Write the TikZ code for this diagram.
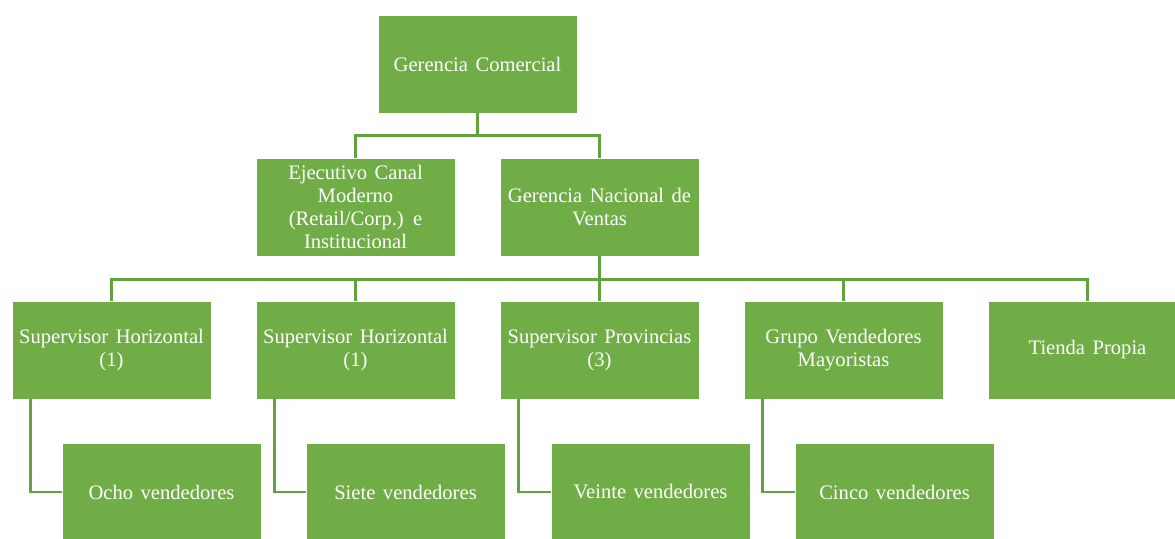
\documentclass[tikz,border=0pt]{standalone}
\usepackage{fontspec}
\setmainfont{Liberation Serif}
\definecolor{boxgreen}{HTML}{70AD47}
\definecolor{linkgreen}{HTML}{64A13F}
\newcommand\orgfont{\fontsize{20.6}{22.8}\selectfont\spaceskip=7.5pt plus 2pt minus 1pt\relax}
\tikzset{
  orgbox/.style={rectangle, fill=boxgreen, draw=white, line width=0.8pt,
    minimum width=199pt, minimum height=98pt, inner sep=0pt,
    text=white, align=center, font=\orgfont},
  link/.style={draw=linkgreen, line width=2.6pt}
}
\begin{document}
\begin{tikzpicture}[x=1pt, y=-1pt]
  \useasboundingbox (0,0) rectangle (1175,538);

  % head
  \node[orgbox] (gc)  at (477.5,64)  {Gerencia Comercial};

  % second level
  \node[orgbox] (eje) at (355.5,207) {Ejecutivo Canal\\Moderno\\(Retail/Corp.) e\\Institucional};
  \node[orgbox] (gnv) at (599.5,207) {Gerencia Nacional de\\Ventas};

  % third level
  \node[orgbox] (sh1) at (111.5,350) {Supervisor Horizontal\\(1)};
  \node[orgbox] (sh2) at (355.5,350) {Supervisor Horizontal\\(1)};
  \node[orgbox] (sp)  at (599.5,350) {Supervisor Provincias\\(3)};
  \node[orgbox] (gvm) at (843.5,350) {Grupo Vendedores\\Mayoristas};
  \node[orgbox] (tp)  at (1087.5,350) {Tienda Propia};

  % sales teams
  \node[orgbox] (v8) at (161.5,492) {Ocho vendedores};
  \node[orgbox] (v7) at (405.5,492) {Siete vendedores};
  \node[orgbox] (v20) at (650.5,492) {Veinte vendedores};
  \node[orgbox] (v5) at (894.5,492) {Cinco vendedores};

  % head to second level
  \path[link] (gc.south) -- ++(0,22) -| (eje.north);
  \path[link] (gc.south) -- ++(0,22) -| (gnv.north);

  % second to third level
  \foreach \n in {sh1,sh2,sp,gvm,tp}
    \path[link] (gnv.south) -- ++(0,23) -| (\n.north);

  % supervisors to their teams
  \path[link] ([xshift=19pt]sh1.south west) |- (v8.west);
  \path[link] ([xshift=19pt]sh2.south west) |- (v7.west);
  \path[link] ([xshift=19pt]sp.south west)  |- (v20.west);
  \path[link] ([xshift=19pt]gvm.south west) |- (v5.west);
\end{tikzpicture}
\end{document}
